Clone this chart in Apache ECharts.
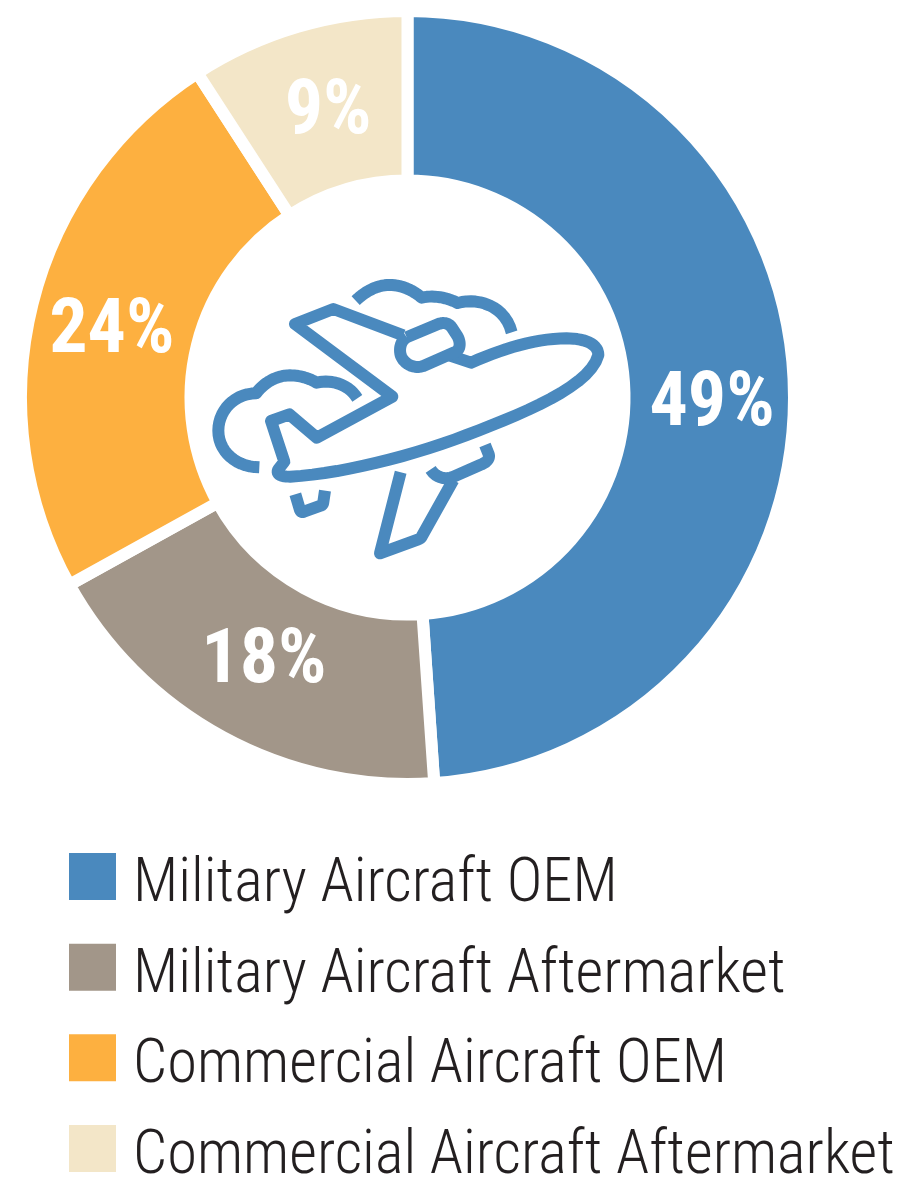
<!DOCTYPE html>
<html><head><meta charset="utf-8">
<style>html,body{margin:0;padding:0;background:#fff}#c{width:897px;height:1179px}</style>
<script src="https://cdn.jsdelivr.net/npm/echarts@6/dist/echarts.min.js"></script>
</head><body><div id="c"></div>
<script>
const categories = ['Military Aircraft OEM','Military Aircraft Aftermarket','Commercial Aircraft OEM','Commercial Aircraft Aftermarket'];
const shares = [48.9,18.05,23.9,9.15];
const colours = ['#4a89be','#a29689','#fdb040','#f3e6c8'];

// Aeroplane pictogram outlines, decorative only.
const iconPaths = [
 [[497,122],[530,90,565,75,598,75],[635,75,668,90,695,113],[730,105,770,112,803,129],[860,112,945,135,965,217]],
 [[208,622],[140,622,85,575,85,512],[85,450,135,400,198,400],[225,365,262,346,300,346],[330,346,358,355,380,368],[420,358,475,370,502,415]],
 [[640,226],[430,147],[315,192],[607,410],[380,533],[298,463],[243,483],[283,605],[265,628],[258,642,270,650,300,650],[450,642,660,590,830,525],[1000,460,1200,380,1225,285],[1225,250,1180,235,1130,235],[1040,235,940,265,843,308],[780,287]],
 [[650,232],[745,192],[765,185,778,192,785,202],[802,228],[812,245,812,268,797,275],[700,318],[670,328,640,310,632,285],[626,262,635,240,650,232]],
 [[632,637],[570,880],[685,838],[690,836,694,833,696,828],[790,660]],
 [[722,628],[738,655,770,660,790,650],[870,615],[897,605,900,590,895,580],[885,555]],
 [[316,703],[330,750],[333,757,338,757,342,755],[392,737],[398,735,399,732,400,726],[405,692]]
];
const toPx = (x,y)=>[190+x/3,260+y/3];
function flatten(path){
  const out=[path[0].slice()];
  for(let i=1;i<path.length;i++){
    const s=path[i];
    if(s.length===2){out.push(s.slice());continue;}
    const p=out[out.length-1];
    for(let k=1;k<=14;k++){
      const t=k/14,u=1-t;
      out.push([u*u*u*p[0]+3*u*u*t*s[0]+3*u*t*t*s[2]+t*t*t*s[4],
                u*u*u*p[1]+3*u*u*t*s[1]+3*u*t*t*s[3]+t*t*t*s[5]]);
    }
  }
  return out.map(q=>toPx(q[0],q[1]));
}
const labelNudge = [[0,19],[2,-2],[0,9],[7,9]];
const legendFont = {fontFamily:'Roboto',fontStyle:'condensed',fontWeight:300,fontSize:60.5,lineHeight:41,color:'#231f20'};
const chart = echarts.init(document.getElementById('c'),null,{renderer:'canvas'});
chart.setOption({
  animation:false,
  backgroundColor:'#fff',
  legend:{
    orient:'vertical',left:69,top:836.75,padding:0,height:400,
    itemWidth:47,itemHeight:47,itemGap:11.17,icon:'rect',selectedMode:false,
    itemStyle:{borderWidth:0},
    data:categories,
    formatter:n=>'{a|'+n+'}',
    textStyle:{...legendFont,rich:{a:{...legendFont,padding:[18.5,0,0,12]}}}
  },
  series:[{
    type:'pie',
    center:[407.5,397.5],
    radius:[217,386.5],
    startAngle:90,
    clockwise:true,
    silent:true,
    avoidLabelOverlap:false,
    itemStyle:{borderColor:'#fff',borderWidth:12,borderJoin:'miter'},
    label:{show:true,position:'inside',formatter:p=>Math.round(p.value)+'%',color:'#fff',fontWeight:'bold',fontStyle:'condensed',fontSize:76,
      fontFamily:'Roboto'},
    labelLine:{show:false},
    labelLayout:p=>({dx:labelNudge[p.dataIndex][0],dy:labelNudge[p.dataIndex][1]}),
    data:categories.map((n,i)=>({name:n,value:shares[i],itemStyle:{color:colours[i]}}))
  }],
  graphic:iconPaths.map(p=>({
    type:'polyline',silent:true,z:10,
    shape:{points:flatten(p)},
    style:{fill:null,stroke:colours[0],lineWidth:12,lineJoin:'round',lineCap:'butt'}
  }))
});
</script></body></html>
